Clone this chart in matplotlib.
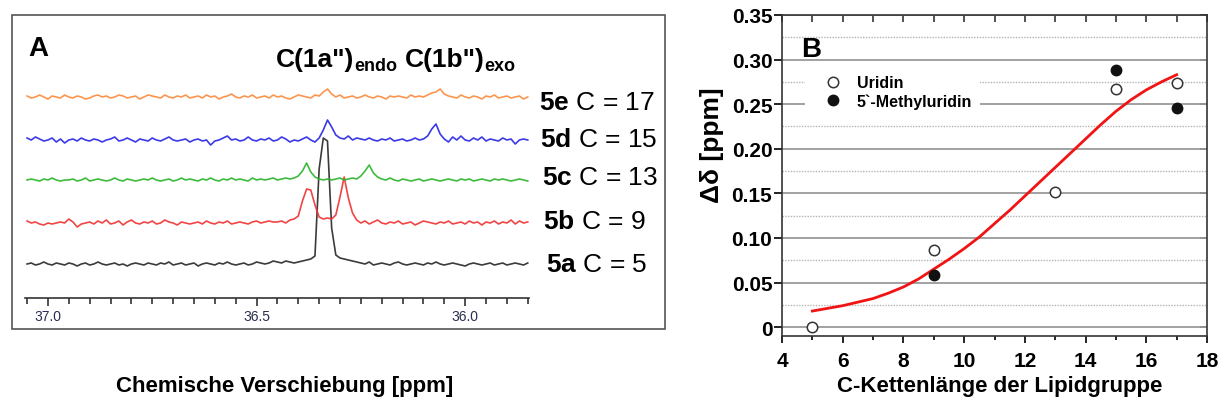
import numpy as np
import matplotlib
matplotlib.use('Agg')
import matplotlib.pyplot as plt
from matplotlib.ticker import MultipleLocator, FormatStrFormatter
from matplotlib.patches import Rectangle
from matplotlib.lines import Line2D

plt.rcParams['font.family'] = ['Liberation Sans', 'DejaVu Sans']
plt.rcParams['mathtext.fontset'] = 'custom'
plt.rcParams['mathtext.rm'] = 'Liberation Sans'
plt.rcParams['mathtext.bf'] = 'Liberation Sans:bold'

W, H = 1219, 410

# ── Data ──────────────────────────────────────────────────────────────────────
# panel A: 13C spectra, 0.01 ppm steps from 37.05 down to 35.85
ppm = np.linspace(37.05, 35.85, 121)

spec_5a = [0, 1, -1, 0, 2, 0, -1, 1, 0, -1,
           1, 0, -2, 0, 1, -1, 0, 2, 0, -1,
           0, 1, -1, 0, -2, 0, 1, 0, -1, 1,
           0, -1, 1, 0, 2, -1, 0, 1, -1, 0,
           1, -2, 0, 1, 0, -1, 1, 0, 2, 0,
           -1, 0, 1, -1, 0, 2, 1, 0, 1, 3,
           2, 1, 3, 2, 1, 2, 3, 4, 5, 8,
           95, 126, 123, 36, 9, 6, 5, 4, 3, 2,
           1, 0, 2, -1, 0, 1, 0, -1, 1, 2,
           0, -1, 0, 1, 0, -1, 1, 0, 2, 0,
           -1, 0, 1, 0, -1, -2, 0, 1, 0, -1,
           0, 1, -1, 0, 1, -1, 0, 1, 0, -1,
           1]
spec_5b = [2, 0, 1, -1, -2, 0, -1, 0, 1, 0,
           4, 1, -4, -1, 0, 1, -1, 2, 0, 3,
           -1, 0, 2, -2, 1, 3, 0, -1, 1, 0,
           2, -1, 0, 3, 1, 0, -2, 1, 0, -1,
           0, 1, -1, 2, 0, -1, 1, 0, 2, -1,
           0, 1, 0, -1, 1, 2, 0, 1, 2, 1,
           1, 2, 0, 3, 4, 7, 22, 34, 33, 18,
           6, 4, 5, 4, 8, 26, 46, 25, 10, 3,
           0, 2, -1, 1, 3, 0, -1, 1, 0, 2,
           -1, 0, 1, -2, 0, 2, 1, 0, -1, 1,
           0, 2, -1, 0, 1, -1, 2, 0, 1, -2,
           1, 0, 2, -1, 1, 0, 3, -1, 2, 0,
           1]
spec_5c = [0, 1, 0, -1, 1, 0, 2, 0, -1, 0,
           0, 1, -1, 0, 2, -1, 0, 1, 0, -1,
           0, 2, 0, -1, 1, 0, -1, 0, 1, 0,
           2, 0, -1, 0, 1, -1, 0, 2, 0, 1,
           0, -1, 1, 0, 2, 0, -1, 1, 0, 2,
           0, 1, 0, -1, 2, 0, 1, 0, 1, 2,
           0, 1, 2, 1, 2, 4, 9, 17, 8, 3,
           1, 0, 1, 0, 1, 2, 0, 1, 2, 1,
           4, 9, 15, 7, 3, 1, 0, 2, 0, -1,
           1, 0, -1, 0, 1, -1, 0, 1, 0, -1,
           0, 1, 0, -1, 1, 0, 1, -1, 0, 1,
           0, -1, 1, 0, 1, 0, -1, 0, 1, 0,
           -1]
spec_5d = [2, 0, 3, 1, -1, 0, 2, -2, 1, -3,
           0, 1, -1, 2, 0, -1, 1, 0, -2, 0,
           1, 3, -1, 0, 2, 0, -2, 1, 0, -1,
           2, 0, -1, 1, 3, 0, -1, 0, 1, -2,
           0, 1, -1, 0, -5, -1, 0, 2, 4, 0,
           1, -1, 0, 3, 0, -1, 1, 0, 2, -1,
           0, 3, 1, -2, 0, -1, 1, 3, 0, -2,
           2, 10, 20, 13, 5, 2, 1, 4, 0, 2,
           1, 0, 2, 0, -1, 1, 0, 2, -1, 0,
           1, -1, 0, 2, 0, 1, 4, 11, 16, 6,
           1, -2, 3, 0, 4, 0, -1, 2, 0, 3,
           -1, 1, 0, -1, 2, 0, 1, -4, 0, 1,
           0]
spec_5e = [1, -1, 0, 2, 0, -2, 1, 0, -1, 2,
           0, -1, 1, 0, -2, -1, 1, 2, 0, 1,
           -1, 0, 2, 1, -1, 0, 1, -2, 0, 2,
           1, 0, -1, 2, 0, -1, 1, 0, 2, -1,
           0, 1, -1, 2, 0, 1, -2, 0, 1, 3,
           0, -1, 1, 0, 2, -1, 0, 1, -1, 2,
           0, 1, -1, -2, 0, 2, 1, 0, -1, 2,
           1, 5, 8, 3, 0, 2, -1, 0, 1, -1,
           0, 2, 0, -1, 1, 0, -2, 1, 0, 1,
           0, -1, 2, 0, 1, 0, 2, 4, 5, 8,
           3, 1, 0, -1, 2, 0, -1, 1, 0, -2,
           1, 0, 2, -1, 0, 1, -1, 0, 1, -2,
           0]

compounds = ['5a', '5b', '5c', '5d', '5e']
chain_len = [5, 9, 13, 15, 17]
peak_title = [('C(1a")', 'endo'), ('C(1b")', 'exo')]

# panel B: shift difference vs chain length
uridin_x = [5, 9, 13, 15, 17]
uridin_y = [0.0, 0.086, 0.152, 0.267, 0.274]
methyl_x = [9, 15, 17]
methyl_y = [0.058, 0.288, 0.246]
fit_x = [5, 5.5, 6, 6.5, 7, 7.5, 8, 8.5, 9, 9.5, 10, 10.5, 11, 11.5, 12,
         12.5, 13, 13.5, 14, 14.5, 15, 15.5, 16, 16.5, 17]
fit_y = [0.018, 0.021, 0.024, 0.028, 0.032, 0.038, 0.045, 0.054, 0.065,
         0.076, 0.088, 0.101, 0.116, 0.131, 0.147, 0.163, 0.179, 0.195,
         0.211, 0.227, 0.242, 0.255, 0.266, 0.275, 0.283]
ytick_vals = [0, 0.05, 0.10, 0.15, 0.20, 0.25, 0.30, 0.35]
ytick_labels = ['0', '0.05', '0.10', '0.15', '0.20', '0.25', '0.30', '0.35']

# ── Layout helpers ────────────────────────────────────────────────────────────
def fbox(l, t, r, b):
    return [l / W, 1 - b / H, (r - l) / W, (b - t) / H]

def fx(x):
    return x / W

def fy(y):
    return 1 - y / H

fig = plt.figure(figsize=(W / 100, H / 100), dpi=100)
renderer = fig.canvas.get_renderer()

# ── Panel A ───────────────────────────────────────────────────────────────────
spectra = [spec_5a, spec_5b, spec_5c, spec_5d, spec_5e]
offsets = [34, 75, 118, 158, 201]
colors = ['#262626', '#f03030', '#28b428', '#2424e6', '#fb8a3c']
label_pos = [(546, 272), (543, 229), (542, 185), (540, 147), (539, 110)]

axA = fig.add_axes(fbox(25, 16, 529, 299))
axA.patch.set_alpha(0)
for spec, off, col in zip(spectra, offsets, colors):
    axA.plot(ppm, np.array(spec) + off, color=col, lw=1.2, alpha=0.9)
axA.set_xlim(37.055, 35.847)
axA.set_ylim(0, 283)
for s in ['top', 'left', 'right']:
    axA.spines[s].set_visible(False)
axA.spines['bottom'].set_color('#333333')
axA.spines['bottom'].set_linewidth(1.2)
axA.set_yticks([])
axA.xaxis.set_major_locator(MultipleLocator(0.5))
axA.xaxis.set_minor_locator(MultipleLocator(0.05))
axA.xaxis.set_major_formatter(FormatStrFormatter('%.1f'))
axA.tick_params(axis='x', which='major', direction='out', length=6, width=1.2,
                color='#333333', labelsize=10, labelcolor='#2b2d4f', pad=2)
axA.tick_params(axis='x', which='minor', direction='out', length=4, width=1.2,
                color='#333333')

fig.add_artist(Rectangle((fx(12), fy(330)), 653 / W, 314 / H,
                         transform=fig.transFigure, fill=False,
                         ec='#555555', lw=1.2))

fig.text(fx(28), fy(56), 'A', fontsize=20, fontweight='bold', va='baseline')

# peak title: main text + lowered subscript, chained left to right
x_px = 276
for main, sub in peak_title:
    t = fig.text(fx(x_px), fy(67), main, fontsize=19, fontweight='bold',
                 va='baseline')
    x_px = t.get_window_extent(renderer).x1
    t = fig.text(fx(x_px), fy(71), sub, fontsize=13, fontweight='bold',
                 va='baseline')
    x_px = t.get_window_extent(renderer).x1 + 7

for name, n, (lx, ly) in zip(compounds, chain_len, label_pos):
    fig.text(fx(lx), fy(ly), rf'$\mathbf{{{name}}}$ C = {n}', fontsize=19,
             va='baseline')
fig.text(fx(285), fy(392), 'Chemische Verschiebung [ppm]', ha='center',
         va='baseline', fontsize=16, fontweight='bold')

# ── Panel B ───────────────────────────────────────────────────────────────────
axB = fig.add_axes(fbox(782, 16, 1207, 337))
axB.set_xlim(4, 18)
axB.set_ylim(-0.01, 0.35)

axB.plot(fit_x, fit_y, color='#f01414', lw=2, zorder=3)
axB.plot(methyl_x, methyl_y, 'o', ms=7.5, mfc='#111111', mec='#111111',
         mew=1, zorder=4)
axB.plot(uridin_x, uridin_y, 'o', ms=7.5, mfc='white', mec='#333333',
         mew=1.1, zorder=4)

axB.set_yticks(ytick_vals, ytick_labels)
axB.yaxis.set_minor_locator(MultipleLocator(0.025))
axB.xaxis.set_major_locator(MultipleLocator(2))
axB.xaxis.set_minor_locator(MultipleLocator(1))
axB.grid(axis='y', which='major', color='#9a9a9a', lw=1.3, zorder=0)
axB.grid(axis='y', which='minor', color='#b4b4b4', lw=1, ls=(0, (1, 1)),
         zorder=0)
axB.tick_params(axis='y', which='major', direction='out', length=6, width=1.2,
                labelsize=15, pad=1)
axB.tick_params(axis='y', which='minor', length=0)
axB.tick_params(axis='x', which='major', direction='out', length=5, width=1.2,
                labelsize=15, pad=6)
axB.tick_params(axis='x', which='minor', direction='out', length=3, width=1.2)
for lab in axB.get_xticklabels() + axB.get_yticklabels():
    lab.set_fontweight('bold')
for s in axB.spines.values():
    s.set_color('#333333')
    s.set_linewidth(1.2)

top = axB.secondary_xaxis('top')
top.xaxis.set_major_locator(MultipleLocator(1))
top.tick_params(direction='in', length=5, width=1.2, labeltop=False,
                color='#333333')
top.spines['top'].set_visible(False)
right = axB.secondary_yaxis('right')
right.yaxis.set_major_locator(MultipleLocator(0.05))
right.tick_params(direction='in', length=5, width=1.2, labelright=False,
                  color='#333333')
right.spines['right'].set_visible(False)

handles = [Line2D([], [], ls='none', marker='o', ms=7.5, mfc='white',
                  mec='#333333', mew=1.1),
           Line2D([], [], ls='none', marker='o', ms=7.5, mfc='#111111',
                  mec='#111111')]
leg = axB.legend(handles, ['Uridin', '5`-Methyluridin'], loc='upper left',
                 bbox_to_anchor=(0.054, 0.837), frameon=True, fancybox=False,
                 framealpha=1, facecolor='white', edgecolor='none',
                 prop={'size': 11.5, 'weight': 'bold'}, borderpad=0.5,
                 handlelength=2.5, handletextpad=0.25, labelspacing=0.2,
                 borderaxespad=0)
leg.set_zorder(2)

fig.text(fx(801), fy(57), 'B', fontsize=20, fontweight='bold', va='baseline')
fig.text(fx(712), fy(145), 'Δδ [ppm]', rotation=90, ha='center',
         va='center', fontsize=19, fontweight='bold')
fig.text(fx(1000), fy(392), 'C-Kettenlänge der Lipidgruppe', ha='center',
         va='baseline', fontsize=16, fontweight='bold')

fig.savefig('out.png', dpi=100, facecolor='white')
